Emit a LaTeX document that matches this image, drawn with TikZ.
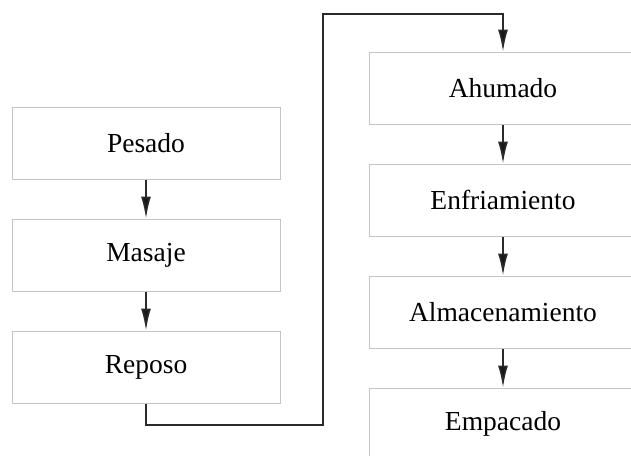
\documentclass[tikz,border=0pt]{standalone}
\usepackage{fontspec}
\setmainfont{Liberation Serif}
\usetikzlibrary{arrows.meta}
\definecolor{boxgray}{HTML}{C4C4C4}
\definecolor{linedark}{HTML}{2A2A2A}
\tikzset{
  stepbox/.style={draw=boxgray, line width=1pt, fill=white, minimum width=268pt, minimum height=72pt, inner sep=0pt, font=\fontsize{27.5}{32}\selectfont},
  flowarrow/.style={draw=linedark, line width=1.6pt, -{Latex[length=22pt,width=10pt,fill=black!90]}},
}
\begin{document}
\begin{tikzpicture}[x=1pt,y=1pt]
\useasboundingbox (0,0) rectangle (631,-455);
\clip (0,0) rectangle (631,-455);
\node[stepbox] (pes) at (146,-143) {Pesado};
\node[stepbox] (mas) at (146,-255) {Masaje};
\node[stepbox] (rep) at (146,-367) {Reposo};
\node[stepbox] (ahu) at (503,-88) {Ahumado};
\node[stepbox] (enf) at (503,-200) {Enfriamiento};
\node[stepbox] (alm) at (503,-312) {Almacenamiento};
\node[stepbox] (emp) at (503,-424) {Empacado};
\coordinate (c1) at (323,-425);
\coordinate (c2) at (323,-14);
\draw[flowarrow] (pes) -- (mas);
\draw[flowarrow] (mas) -- (rep);
\draw[flowarrow] (ahu) -- (enf);
\draw[flowarrow] (enf) -- (alm);
\draw[flowarrow] (alm) -- (emp);
\draw[flowarrow] (rep.south) |- (c1) -- (c2) -| (ahu.north);
\end{tikzpicture}
\end{document}
